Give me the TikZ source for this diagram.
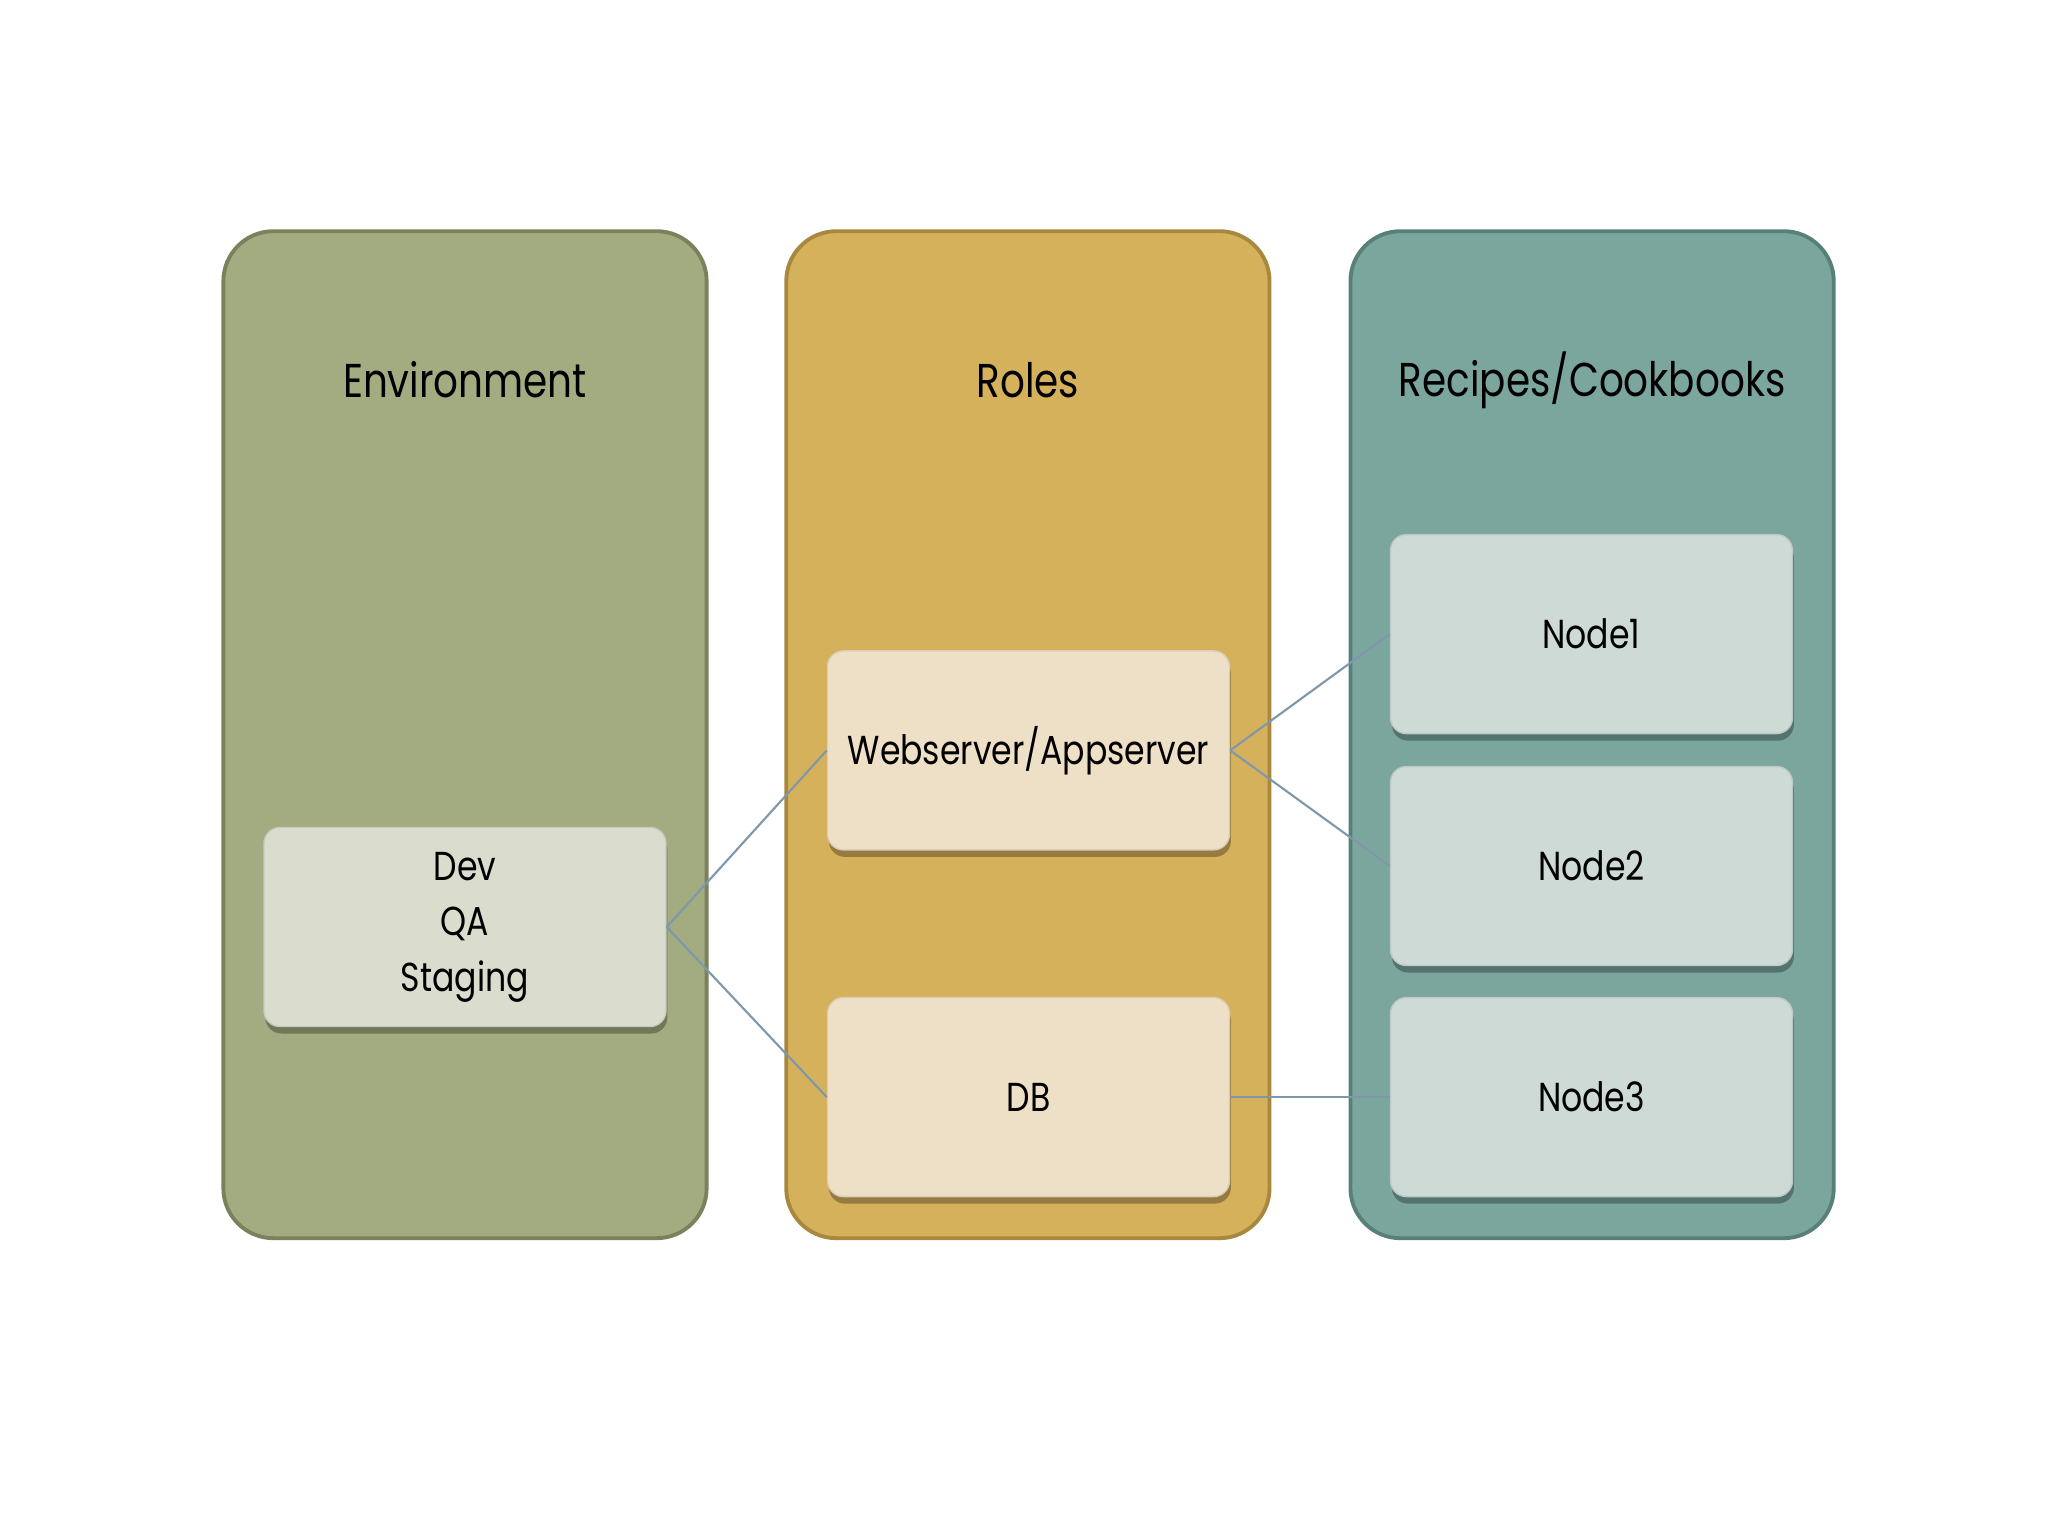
\documentclass[tikz,border=0pt]{standalone}
\usepackage{fontspec}
\setmainfont[FakeStretch=0.82]{Poppins}
\usetikzlibrary{shadows}
\definecolor{envfill}{RGB}{163,171,128}
\definecolor{envdraw}{RGB}{122,130,92}
\definecolor{rolefill}{RGB}{214,177,92}
\definecolor{roledraw}{RGB}{168,136,62}
\definecolor{recfill}{RGB}{123,166,158}
\definecolor{recdraw}{RGB}{88,128,120}
\definecolor{envsub}{RGB}{218,221,206}
\definecolor{rolesub}{RGB}{238,223,199}
\definecolor{recsub}{RGB}{205,218,213}
\definecolor{conn}{RGB}{127,151,170}
\tikzset{
  panel/.style={draw, line width=1.1pt, rounded corners=0.5cm, minimum width=4.833cm, minimum height=10.07cm, inner sep=0pt},
  subbox/.style={rounded corners=0.16cm, minimum width=4.02cm, minimum height=1.99cm, inner sep=0pt, align=center, font=\fontsize{11.5}{15.8}\selectfont,
    drop shadow={shadow xshift=0.4pt, shadow yshift=-2pt, opacity=0.3, fill=black}},
  title/.style={font=\fontsize{13.5}{16}\selectfont},
  link/.style={draw=conn, line width=0.6pt}
}
\begin{document}
\begin{tikzpicture}
\useasboundingbox[fill=white] (0,0) rectangle (20.48,-15.36);
\node[panel, fill=envfill, draw=envdraw] (penv) at (4.65,-7.347) {};
\node[panel, fill=rolefill, draw=roledraw] (prole) at (10.279,-7.347) {};
\node[panel, fill=recfill, draw=recdraw] (prec) at (15.921,-7.347) {};
\node[title] (tenv) at (4.65,-3.80) {Environment};
\node[title] (trole) at (10.279,-3.80) {Roles};
\node[title] (trec) at (15.921,-3.80) {Recipes/Cookbooks};
\node[subbox, fill=envsub, draw=envsub!92!black] (env) at (4.65,-9.27) {Dev\\QA\\Staging};
\node[subbox, fill=rolesub, draw=rolesub!92!black] (web) at (10.285,-7.504) {Webserver/Appserver};
\node[subbox, fill=rolesub, draw=rolesub!92!black] (db) at (10.285,-10.971) {DB};
\node[subbox, fill=recsub, draw=recsub!92!black] (n1) at (15.915,-6.341) {Node1};
\node[subbox, fill=recsub, draw=recsub!92!black] (n2) at (15.915,-8.66) {Node2};
\node[subbox, fill=recsub, draw=recsub!92!black] (n3) at (15.915,-10.971) {Node3};
\draw[link] (env.east) -- (web.west);
\draw[link] (env.east) -- (db.west);
\draw[link] (web.east) -- (n1.west);
\draw[link] (web.east) -- (n2.west);
\draw[link] (db.east) -- (n3.west);
\end{tikzpicture}
\end{document}
